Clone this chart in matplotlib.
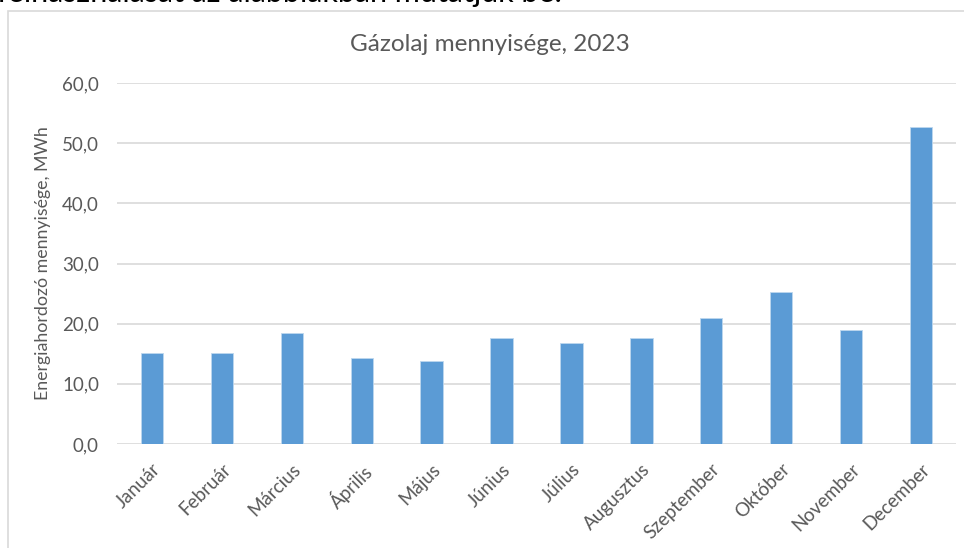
import matplotlib
matplotlib.use("Agg")
import matplotlib.pyplot as plt
from matplotlib.patches import Rectangle
from matplotlib.ticker import FuncFormatter
import numpy as np

plt.rcParams['font.family'] = ['Lato', 'DejaVu Sans']

months = ['Január', 'Február', 'Március', 'Április', 'Május', 'Június',
          'Július', 'Augusztus', 'Szeptember', 'Október', 'November', 'December']
values = [15.1, 15.1, 18.4, 14.3, 13.8, 17.6, 16.8, 17.7, 20.9, 25.3, 19.0, 52.7]

grey = '#595959'
fig = plt.figure(figsize=(9.64, 5.48), dpi=100)
ax = fig.add_axes([0.1214, 0.1898, 0.8703, 0.6587])

x = np.arange(len(months))
ax.bar(x, values, 0.32, color='#5B9BD5', edgecolor='#BDD7EE', linewidth=0.6, zorder=3)

ax.set_xlim(-0.5, len(months) - 0.5)
ax.set_ylim(0, 60)
ax.set_yticks(np.arange(0, 61, 10))
ax.yaxis.set_major_formatter(FuncFormatter(lambda v, p: f'{v:.1f}'.replace('.', ',')))
ax.grid(axis='y', color='#D9D9D9', linewidth=1.2, zorder=0)
ax.tick_params(length=0, colors=grey, labelsize=13.5)
ax.tick_params(axis='y', pad=13)
ax.tick_params(axis='x', labelsize=13.5, pad=12)
ax.set_xticks(x, labels=months, rotation=45, ha='right', rotation_mode='anchor')
for s in ['left', 'right', 'top', 'bottom']:
    ax.spines[s].set_visible(False)

ax.set_ylabel('Energiahordozó mennyisége, MWh', color=grey, fontsize=12.8, labelpad=8)
fig.text(0.508, 0.918, 'Gázolaj mennyisége, 2023', ha='center', va='center',
         color=grey, fontsize=17.5)

# chart frame and clipped paragraph text above
fig.patches.append(Rectangle((8 / 964, -0.05), 1.0, 1 - 11 / 548 + 0.05,
                             transform=fig.transFigure, fill=False,
                             edgecolor='#D9D9D9', linewidth=1.2))
fig.text(-0.003, 1 - 2 / 548, 'felhasználását az alábbiakban mutatjuk be.',
         ha='left', va='baseline', color='black', fontsize=22)

fig.savefig('out.png', dpi=100)
